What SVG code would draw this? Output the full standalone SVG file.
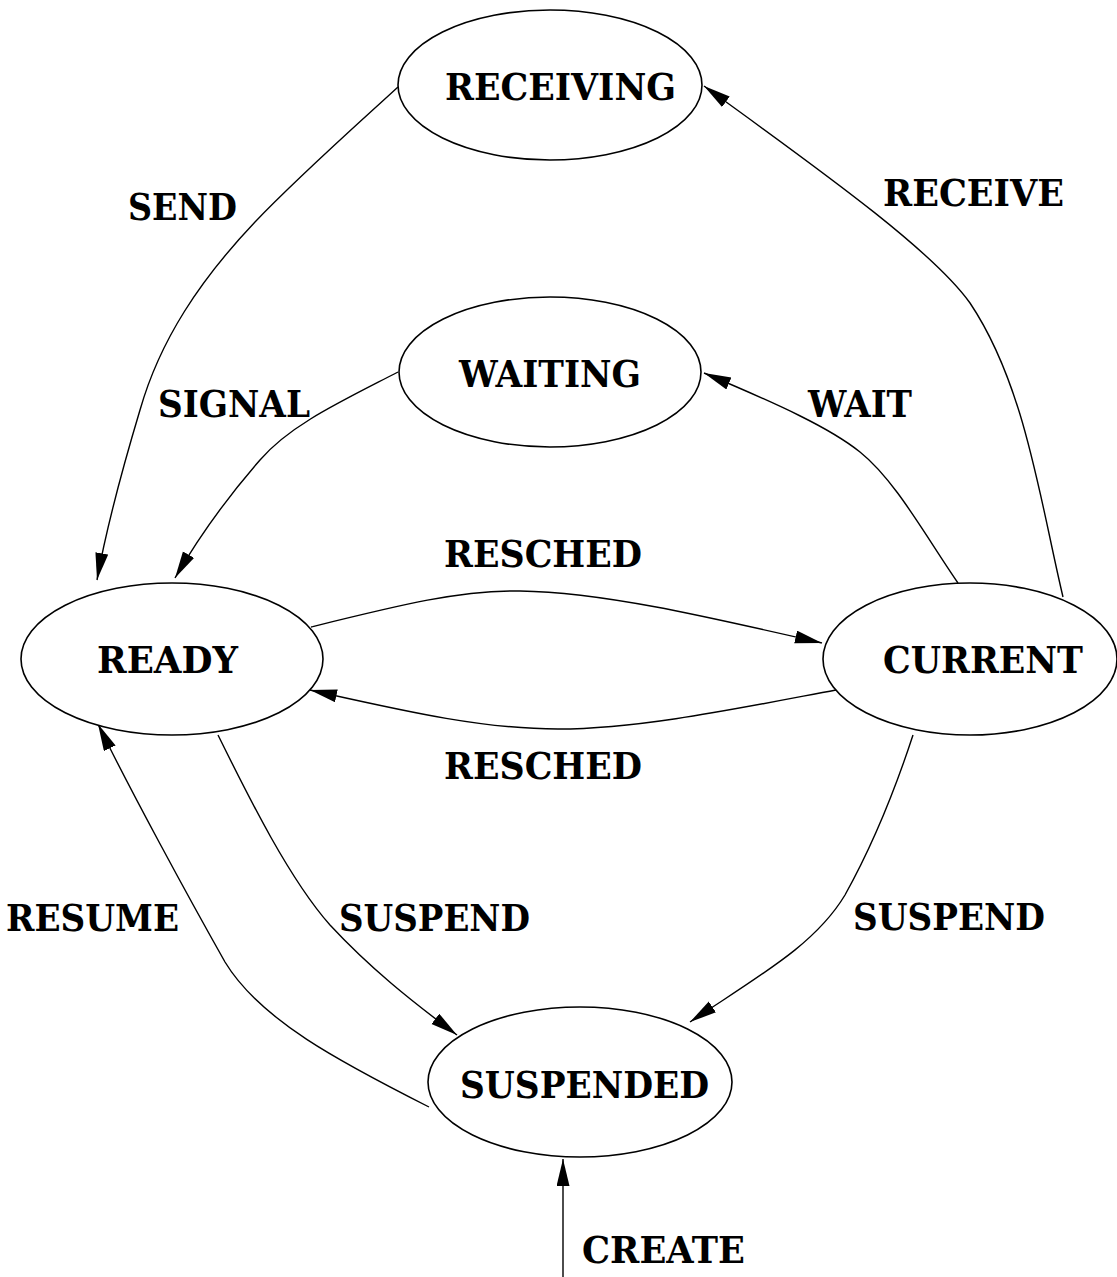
<svg xmlns="http://www.w3.org/2000/svg" width="1117" height="1277" viewBox="0 0 1117 1277">
<style>
.node ellipse{fill:#fff;stroke:#000;stroke-width:1.6}
text{font-family:"DejaVu Serif","Liberation Serif",serif;font-weight:bold;font-size:38px;fill:#000}
.edge path,.edge line{fill:none;stroke:#000;stroke-width:1.4;marker-end:url(#arr)}
</style>
<defs>
<marker id="arr" markerUnits="userSpaceOnUse" markerWidth="28" markerHeight="14" refX="27" refY="6.5" orient="auto">
<path d="M0,0 L27,6.5 L0,13 z" fill="#000"/>
</marker>
</defs>
<rect width="1117" height="1277" fill="#fff"/>
<g id="connectors" class="edge">
<path d="M398,87 C360,122 300,175 255,222 C200,280 160,340 140,410 C122,470 107,525 97,580"/>
<path d="M398,372 C340,402 290,425 260,460 C225,500 200,535 175,578"/>
<path d="M311,627 C400,605 460,590 520,591 C600,592 700,615 822,643"/>
<path d="M836,690 C740,708 640,729 558,729 C480,729 400,710 310,690"/>
<path d="M958,583 C925,535 895,480 860,452 C830,428 780,405 704,373"/>
<path d="M1063,597 C1040,500 1025,385 970,303 C935,254 840,184 704,86"/>
<path d="M218,735 C250,800 290,880 330,925 C370,968 410,1000 457,1035"/>
<path d="M913,735 C895,790 870,850 845,895 C815,945 760,975 690,1022"/>
<path d="M429,1107 C340,1062 260,1020 225,962 C190,900 130,790 98,724"/>
<line x1="563" y1="1277" x2="563" y2="1159"/>
</g>
<g id="labels">
<text x="128" y="220" textLength="109" lengthAdjust="spacingAndGlyphs">SEND</text>
<text x="883" y="206" textLength="181" lengthAdjust="spacingAndGlyphs">RECEIVE</text>
<text x="158" y="417" textLength="152" lengthAdjust="spacingAndGlyphs">SIGNAL</text>
<text x="808" y="417" textLength="104" lengthAdjust="spacingAndGlyphs">WAIT</text>
<text x="444" y="567" textLength="198" lengthAdjust="spacingAndGlyphs">RESCHED</text>
<text x="444" y="779" textLength="198" lengthAdjust="spacingAndGlyphs">RESCHED</text>
<text x="6" y="931" textLength="173" lengthAdjust="spacingAndGlyphs">RESUME</text>
<text x="339" y="931" textLength="191" lengthAdjust="spacingAndGlyphs">SUSPEND</text>
<text x="853" y="930" textLength="192" lengthAdjust="spacingAndGlyphs">SUSPEND</text>
<text x="582" y="1263" textLength="163" lengthAdjust="spacingAndGlyphs">CREATE</text>
</g>
<g id="RECEIVING" class="node">
<ellipse cx="550" cy="85" rx="152" ry="75"/>
<text x="445" y="100" textLength="231" lengthAdjust="spacingAndGlyphs">RECEIVING</text>
</g>
<g id="WAITING" class="node">
<ellipse cx="550" cy="372" rx="151" ry="75"/>
<text x="459" y="387" textLength="182" lengthAdjust="spacingAndGlyphs">WAITING</text>
</g>
<g id="READY" class="node">
<ellipse cx="172" cy="659" rx="151" ry="76"/>
<text x="97" y="673" textLength="141" lengthAdjust="spacingAndGlyphs">READY</text>
</g>
<g id="CURRENT" class="node">
<ellipse cx="970" cy="659" rx="147" ry="76"/>
<text x="883" y="673" textLength="200" lengthAdjust="spacingAndGlyphs">CURRENT</text>
</g>
<g id="SUSPENDED" class="node">
<ellipse cx="580" cy="1082" rx="152" ry="75"/>
<text x="460" y="1098" textLength="249" lengthAdjust="spacingAndGlyphs">SUSPENDED</text>
</g>
</svg>
